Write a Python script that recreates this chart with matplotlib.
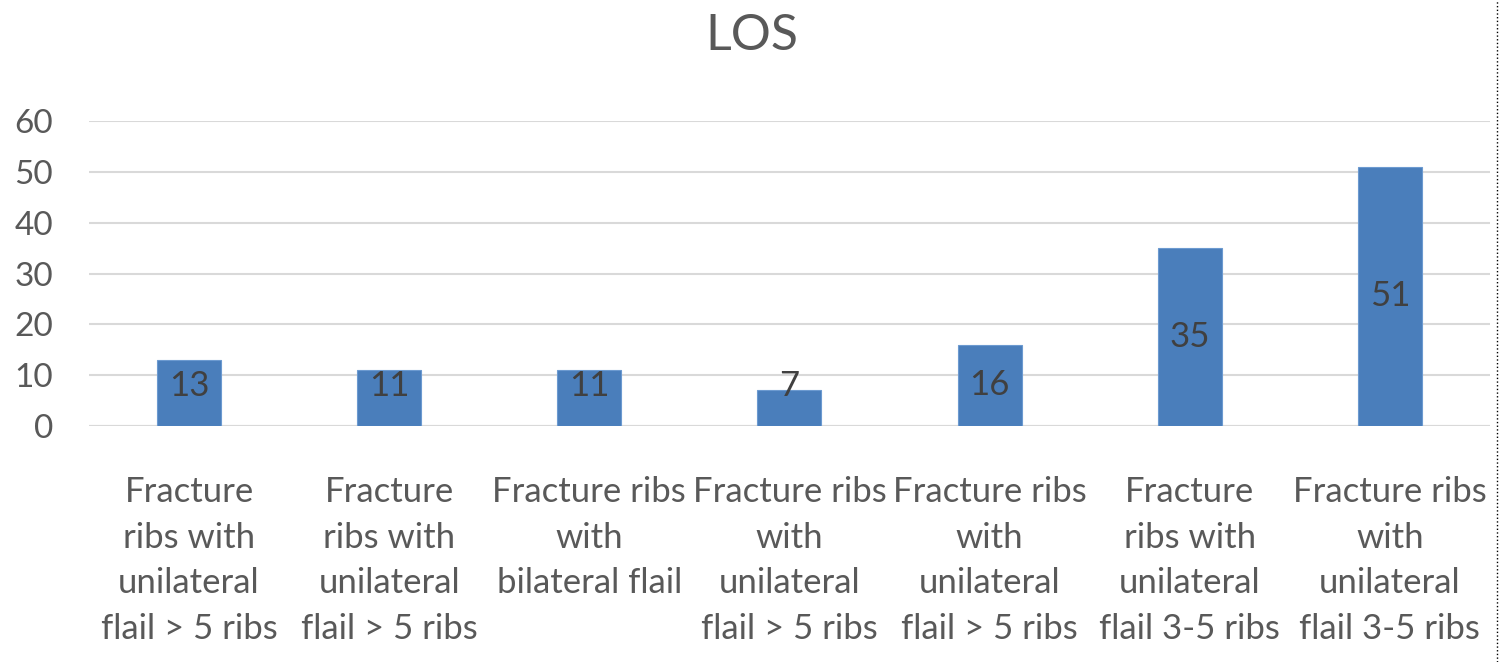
import matplotlib.pyplot as plt
from matplotlib.lines import Line2D

plt.rcParams['font.family'] = ['Lato', 'DejaVu Sans']

categories = [
  "Fracture\nribs with\nunilateral\nflail > 5 ribs",
  "Fracture\nribs with\nunilateral\nflail > 5 ribs",
  "Fracture ribs\nwith\nbilateral flail",
  "Fracture ribs\nwith\nunilateral\nflail > 5 ribs",
  "Fracture ribs\nwith\nunilateral\nflail > 5 ribs",
  "Fracture\nribs with\nunilateral\nflail 3-5 ribs",
  "Fracture ribs\nwith\nunilateral\nflail 3-5 ribs",
]
los_values = [13, 11, 11, 7, 16, 35, 51]
y_ticks = [0, 10, 20, 30, 40, 50, 60]

fig = plt.figure(figsize=(15, 6.62), dpi=100)
ax = fig.add_axes([0.0593, 0.3565, 0.934, 0.4607])

x = range(len(los_values))
bars = ax.bar(x, los_values, width=0.32, color="#4A7EBB", edgecolor="#6C9AD0", linewidth=0.8, zorder=3)

# labels sit at the bar middle, but never lower than ~8 (like the excel output)
for xi, v in zip(x, los_values):
  ax.text(xi, max(v / 2, 7.9), str(v), ha="center", va="center", fontsize=25, color="#404040", zorder=4)

ax.set_xlim(-0.5, len(los_values) - 0.5)
ax.set_ylim(0, 60)
ax.set_yticks(y_ticks)
ax.yaxis.grid(True, color="#D9D9D9", linewidth=1.5, zorder=0)
ax.set_axisbelow(True)
for s in ax.spines.values():
  s.set_visible(False)
ax.tick_params(axis="y", length=0, labelsize=24, labelcolor="#595959", pad=26)
ax.tick_params(axis="x", length=0, labelsize=25, labelcolor="#595959", pad=36)
ax.set_xticks(list(x))
ax.set_xticklabels(categories, linespacing=1.52)
ax.axhline(0, color="#D9D9D9", linewidth=1.5, zorder=1)

fig.text(0.501, 0.945, "LOS", ha="center", va="center", fontsize=36, color="#595959")

# dotted border at right edge
fig.add_artist(Line2D([0.998, 0.998], [0, 1], transform=fig.transFigure, color="black", linestyle=":", linewidth=1))

fig.savefig("out.png", dpi=100)
